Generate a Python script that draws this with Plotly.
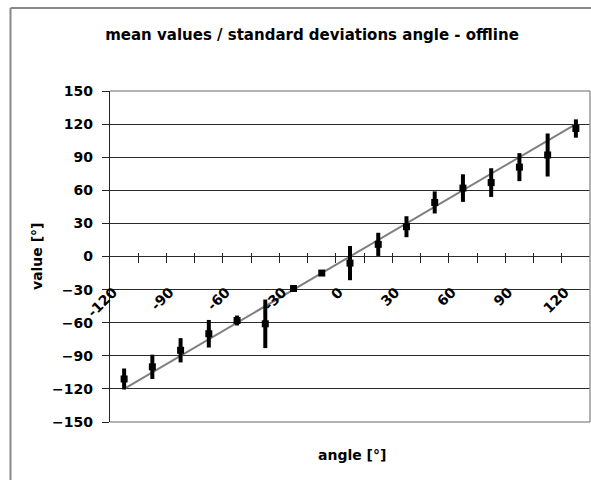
import plotly.graph_objects as go

# ---- data ----
angles = [-120, -105, -90, -75, -60, -45, -30, -15, 0, 15, 30, 45, 60, 75, 90, 105, 120]
mean_values = [-111, -100, -85, -70, -58, -61, -29, -15, -6, 11, 27, 49, 62, 67, 81, 92, 116]
std_devs = [9.5, 11, 11, 12.5, 4.5, 22, 2, 2, 15.5, 10.5, 9.5, 10, 12.5, 13, 12.7, 19.5, 8.3]
reference_values = [-120, -105, -90, -75, -60, -45, -30, -15, 0, 15, 30, 45, 60, 75, 90, 105, 120]

x_tick_values = [-120, -90, -60, -30, 0, 30, 60, 90, 120]
x_tick_labels = ["-120", "-90", "-60", "-30", "0", "30", "60", "90", "120"]
x_boundaries = [-112.5, -97.5, -82.5, -67.5, -52.5, -37.5, -22.5, -7.5, 7.5, 22.5,
                37.5, 52.5, 67.5, 82.5, 97.5, 112.5]
y_tick_values = [-150, -120, -90, -60, -30, 0, 30, 60, 90, 120, 150]

FONT = "DejaVu Sans"
X_RANGE = [-127.5, 127.5]

fig = go.Figure()

fig.add_trace(go.Scatter(
    x=angles, y=reference_values, mode="lines",
    line=dict(color="#7f7f7f", width=2), showlegend=False, hoverinfo="skip",
))
fig.add_trace(go.Scatter(
    x=angles, y=mean_values, mode="markers",
    marker=dict(symbol="square", size=7, color="black"),
    error_y=dict(type="data", array=std_devs, visible=True, color="black",
                 thickness=4, width=0),
    showlegend=False,
))
# empty trace that registers the helper subplot (x, y2)
fig.add_trace(go.Scatter(x=[None], y=[None], xaxis="x", yaxis="y2",
                         mode="markers", showlegend=False, hoverinfo="skip"))

W, H = 591, 480
ML, MR, MT, MB = 110, 1, 91, 58
PW, PH = W - ML - MR, H - MT - MB


def px(xp):
    return (xp - ML) / PW


def py(yp):
    return (H - MB - yp) / PH


fig.update_layout(
    width=W, height=H,
    margin=dict(l=ML, r=MR, t=MT, b=MB, pad=0),
    paper_bgcolor="white", plot_bgcolor="rgba(0,0,0,0)",
    font=dict(family=FONT, color="black"),
    title=dict(text="<b>mean values / standard deviations angle - offline</b>",
               font=dict(family=FONT, size=15, color="black"),
               x=312 / W, xref="container", xanchor="center",
               y=1 - 35 / H, yref="container", yanchor="middle"),
    xaxis=dict(
        range=X_RANGE, anchor="y2", side="bottom", automargin=False,
        showgrid=False, zeroline=False, showline=False,
        tickmode="array", tickvals=x_tick_values, ticktext=x_tick_labels,
        ticks="outside", ticklen=10, tickcolor="rgba(0,0,0,0)", tickwidth=1,
        tickangle=-45,
        tickfont=dict(family=FONT, size=14, color="black", weight="bold"),
        ticklabelstandoff=16, ticklabelshift=-11,
        minor=dict(tickmode="array", tickvals=x_boundaries, ticks="outside",
                   ticklen=10, tickcolor="#222222", tickwidth=1.2, showgrid=False),
    ),
    # invisible helper axis: its lower domain edge sits just above y = 0,
    # so the x axis (anchored to it) crosses the value axis at zero
    yaxis2=dict(
        domain=[0.5 + 5 / PH, 1], range=[0, 1], anchor="x", automargin=False,
        showgrid=False, zeroline=False, showline=False,
        showticklabels=False, ticks="",
    ),
    yaxis=dict(
        range=[-150, 150], tickmode="array", tickvals=y_tick_values,
        anchor="x", automargin=False,
        showgrid=True, gridcolor="#2a2a2a", gridwidth=1.3,
        zeroline=False, showline=True, linecolor="#222222", linewidth=1.3,
        ticks="outside", ticklen=7, tickcolor="#222222", tickwidth=1.2,
        tickfont=dict(family=FONT, size=14, color="black", weight="bold"),
        ticklabelstandoff=6,
    ),
    annotations=[
        dict(text="<b>value [°]</b>", xref="paper", yref="paper",
             x=px(37), y=py(256), textangle=-90, showarrow=False,
             font=dict(family=FONT, size=14, color="black"),
             xanchor="center", yanchor="middle"),
        dict(text="<b>angle [°]</b>", xref="paper", yref="paper",
             x=px(352), y=py(455), showarrow=False,
             font=dict(family=FONT, size=14, color="black"),
             xanchor="center", yanchor="middle"),
    ],
    shapes=[
        # plot-area border (top, right, bottom)
        dict(type="line", xref="paper", yref="paper", x0=0, x1=1, y0=1, y1=1,
             line=dict(color="#999999", width=1.5), layer="above"),
        dict(type="line", xref="paper", yref="paper", x0=0, x1=1, y0=0, y1=0,
             line=dict(color="#999999", width=1.5), layer="above"),
        dict(type="line", xref="paper", yref="paper", x0=1, x1=1, y0=0, y1=1,
             line=dict(color="#999999", width=1.5), layer="above"),
        # outer chart frame (left, top)
        dict(type="line", xref="paper", yref="paper", x0=px(10.5), x1=px(10.5),
             y0=py(8), y1=py(482), line=dict(color="#888888", width=2)),
        dict(type="line", xref="paper", yref="paper", x0=px(10.5), x1=px(593),
             y0=py(8), y1=py(8), line=dict(color="#888888", width=2)),
    ],
)

fig.write_html("out.html")
